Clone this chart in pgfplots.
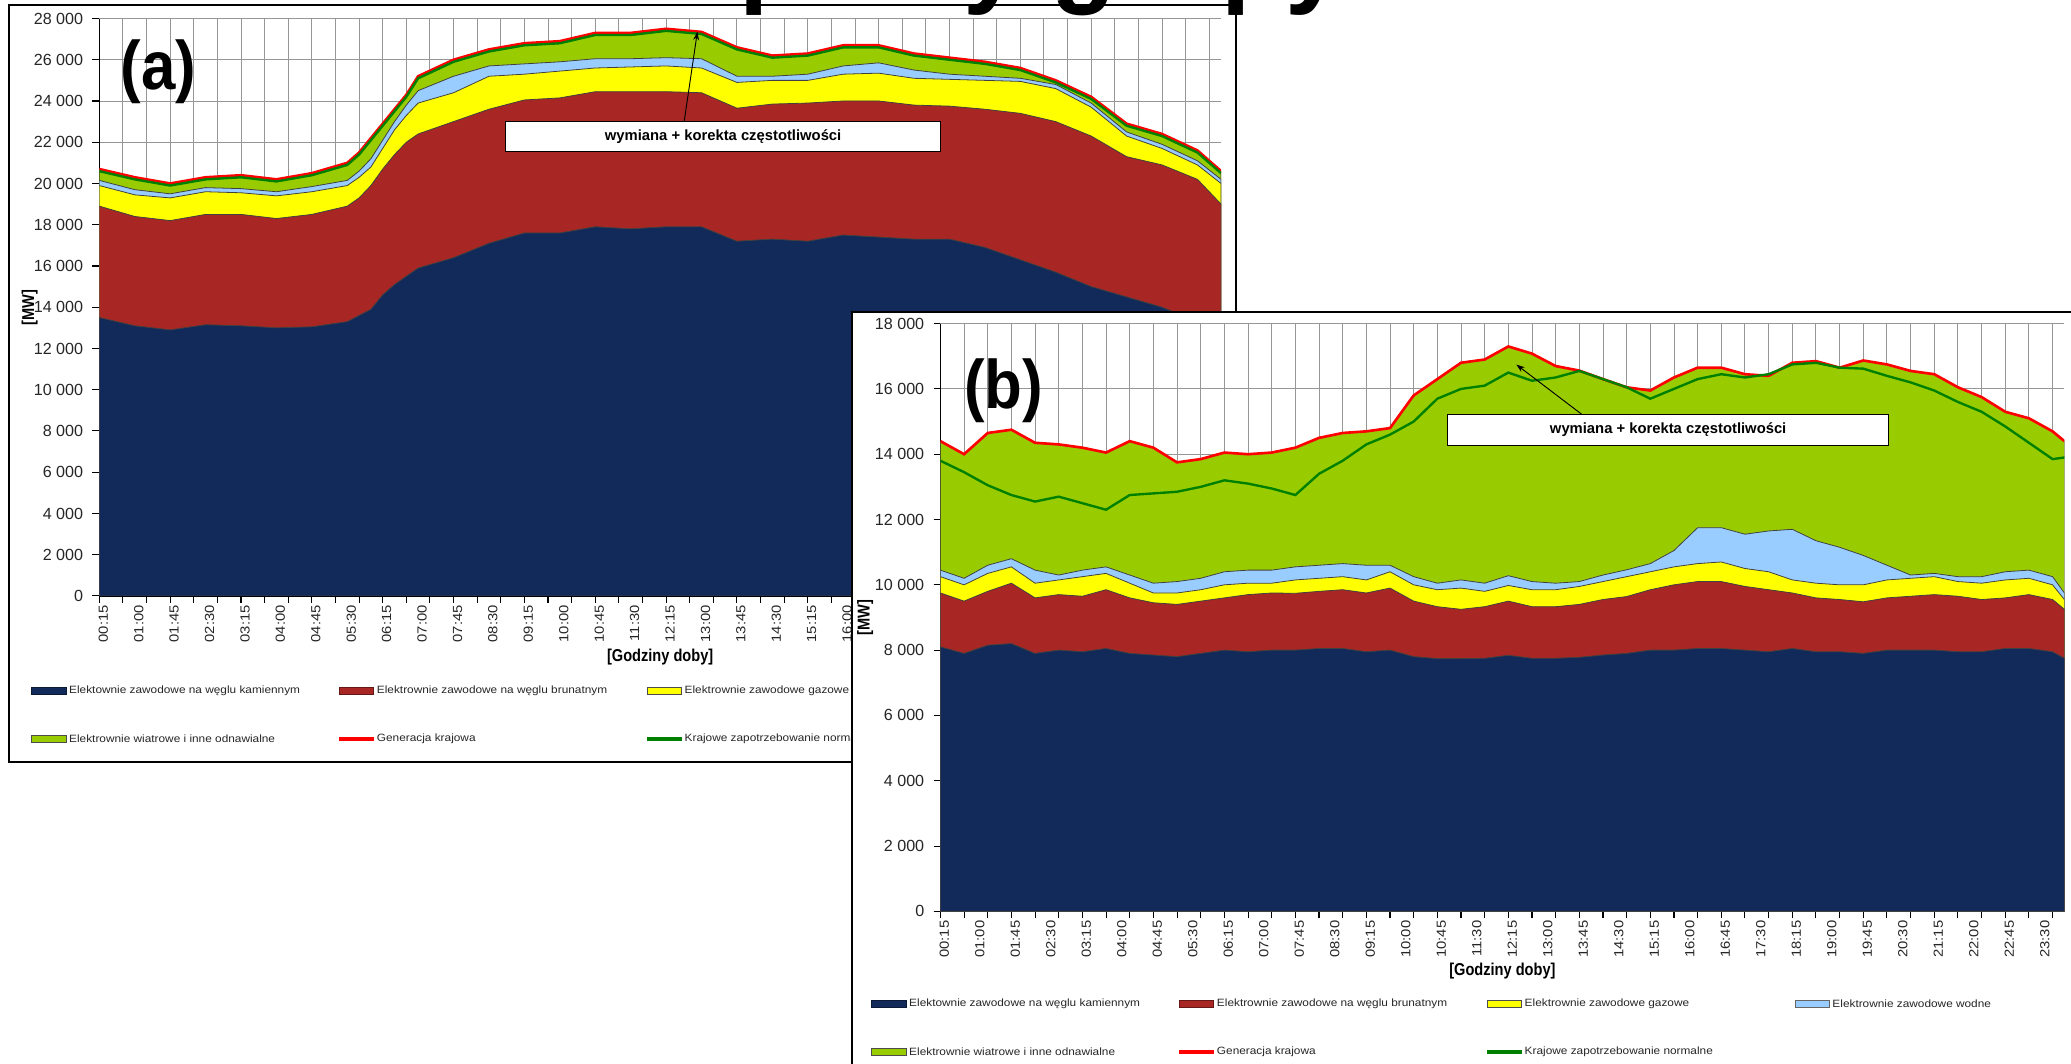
\documentclass[border=0pt]{standalone}
\usepackage{pgfplots}
\pgfplotsset{compat=1.18}
\usepackage{pgfplotstable}
\usepackage{fontspec}
\usetikzlibrary{arrows.meta}
\setmainfont{Liberation Sans}
\newfontfamily\chartfont{Liberation Sans}[FakeStretch=1.12]
\newfontfamily\condfont{Liberation Sans}[FakeStretch=0.85]
\newfontfamily\panelfont{Liberation Sans}[FakeStretch=0.9]

\definecolor{kamien}{RGB}{17,42,90}
\definecolor{brunat}{RGB}{168,38,36}
\definecolor{gaz}{RGB}{255,255,0}
\definecolor{woda}{RGB}{153,204,255}
\definecolor{wiatr}{RGB}{153,204,0}
\definecolor{gen}{RGB}{255,0,0}
\definecolor{zapotrz}{RGB}{0,128,0}
\definecolor{gridgray}{RGB}{150,150,150}

% cumulative tops of the generation layers [MW], quarter-hour index i (0 = 00:15)
\pgfplotstableread{
i  nav   bru   gaz   wod   tot   dem
0  13500 18900 19900 20150 20700 20600
3  13100 18400 19450 19700 20300 20200
6  12900 18200 19300 19500 20000 19900
9  13150 18500 19600 19800 20300 20200
12 13100 18500 19550 19750 20400 20300
15 13000 18300 19400 19600 20200 20100
18 13050 18500 19600 19850 20500 20400
21 13300 18900 19900 20150 21000 20900
22 13600 19300 20300 20600 21500 21400
23 13900 19900 20800 21200 22200 22100
24 14600 20700 21700 22100 22900 22800
25 15100 21400 22600 23000 23600 23500
26 15500 22000 23300 23800 24300 24200
27 15900 22400 23900 24500 25200 25100
30 16400 23000 24400 25200 26000 25900
33 17100 23600 25200 25700 26500 26400
36 17600 24050 25300 25800 26800 26700
39 17600 24150 25450 25900 26900 26800
42 17900 24450 25600 26050 27300 27200
45 17800 24450 25650 26050 27300 27200
48 17900 24450 25700 26100 27500 27400
51 17900 24400 25600 26050 27350 27250
54 17200 23650 24900 25200 26600 26500
57 17300 23850 25000 25200 26200 26100
60 17200 23900 25000 25300 26300 26200
63 17500 24000 25300 25700 26700 26600
66 17400 24000 25350 25850 26700 26600
69 17300 23800 25100 25500 26300 26200
72 17300 23750 25050 25300 26100 26000
75 16900 23600 25000 25200 25900 25800
78 16300 23400 24950 25100 25600 25500
81 15700 23000 24600 24800 25000 24900
84 15000 22300 23700 23900 24200 24100
87 14500 21300 22300 22500 22900 22800
90 14000 20900 21700 21900 22400 22300
93 13300 20200 20900 21100 21600 21500
95 12800 19000 20000 20200 20600 20500
}\dataA

\pgfplotstableread{
i  nav  bru   gaz   wod   tot   dem
0  8100 9750  10250 10450 14400 13800
2  7900 9500  10000 10200 14000 13450
4  8150 9800  10350 10600 14650 13050
6  8200 10050 10550 10800 14750 12750
8  7900 9600  10050 10450 14350 12550
10 8000 9700  10150 10300 14300 12700
12 7950 9650  10250 10450 14200 12500
14 8050 9850  10350 10550 14050 12300
16 7900 9600  10050 10300 14400 12750
18 7850 9450  9750  10050 14200 12800
20 7800 9400  9750  10100 13750 12850
22 7900 9500  9850  10200 13850 13000
24 8000 9600  10000 10400 14050 13200
26 7950 9700  10050 10450 14000 13100
28 8000 9750  10050 10450 14050 12950
30 8000 9740  10150 10550 14200 12750
32 8050 9800  10200 10600 14500 13400
34 8050 9850  10250 10650 14650 13800
36 7950 9750  10150 10600 14700 14300
38 8000 9900  10400 10600 14800 14600
40 7800 9500  10000 10250 15800 15000
42 7740 9330  9850  10050 16300 15700
44 7740 9250  9900  10150 16800 16000
46 7750 9330  9800  10050 16900 16100
48 7840 9500  9980  10280 17300 16500
50 7750 9330  9850  10100 17080 16250
52 7750 9330  9850  10050 16700 16350
54 7780 9400  9950  10100 16560 16550
56 7850 9550  10100 10300 16300 16300
58 7900 9640  10250 10460 16050 16050
60 8000 9850  10400 10650 15950 15700
62 8000 10000 10550 11050 16350 16000
64 8050 10100 10650 11750 16650 16300
66 8050 10100 10700 11750 16650 16450
68 8000 9950  10500 11550 16450 16350
70 7950 9850  10400 11650 16400 16450
72 8050 9750  10150 11700 16800 16750
74 7950 9600  10050 11350 16850 16800
76 7950 9550  10000 11150 16650 16650
78 7900 9480  10000 10900 16870 16620
80 8000 9600  10150 10600 16750 16400
82 8000 9650  10200 10300 16550 16200
84 8000 9700  10250 10350 16450 15950
86 7950 9650  10100 10250 16050 15600
88 7950 9550  10050 10250 15750 15300
90 8050 9600  10150 10400 15300 14850
92 8050 9700  10200 10450 15100 14350
94 7950 9550  10000 10250 14700 13850
95 7750 9250  9550  9750  14400 13900
}\dataB

\pgfplotsset{
  panel/.style={
    scale only axis,
    xmin=0, xmax=95, ymin=0,
    axis x line*=bottom, axis y line*=left,
    axis line style={black, line width=0.5pt},
    tick align=outside,
    major tick length=2.6pt,
    every tick/.style={black, line width=0.4pt},
    xtick={0,2,...,94},
    xticklabels={},
    extra x ticks={0,3,...,93},
    extra x tick labels={00:15,01:00,01:45,02:30,03:15,04:00,04:45,05:30,06:15,07:00,07:45,08:30,09:15,10:00,10:45,11:30,12:15,13:00,13:45,14:30,15:15,16:00,16:45,17:30,18:15,19:00,19:45,20:30,21:15,22:00,22:45,23:30},
    extra x tick style={grid=none, major tick length=0pt,
      tick label style={rotate=90, anchor=east, yshift=-1.5pt}},
    xticklabel style={font=\chartfont\fontsize{5}{5}\selectfont, text=black!85},
    xmajorgrids, ymajorgrids,
    grid style={gridgray, line width=0.35pt},
    ytick distance=2000,
    scaled y ticks=false,
    yticklabel style={font=\fontsize{6.1}{6.1}\selectfont, text=black!85,
      /pgf/number format/assume math mode=true,
      /pgf/number format/fixed,
      /pgf/number format/1000 sep={\ }},
    xlabel={[Godziny doby]},
    ylabel={[MW]},
    label style={font=\condfont\bfseries\fontsize{6.5}{6.5}\selectfont},
    layer/.style={draw=black!75, line width=0.3pt},
  }
}

\tikzset{legtext/.style={anchor=west, inner sep=0pt, text=black!85,
  font=\chartfont\fontsize{4}{4}\selectfont}}
\newcommand{\legswatch}[5]{\begin{scope}[shift={(#1,#2)}]
  \filldraw[fill=#3, draw=#4, line width=0.35pt] (0,-1.3pt) rectangle (13pt,1.3pt);
  \node[legtext] at (14pt,0) {#5};\end{scope}}
\newcommand{\legline}[4]{\begin{scope}[shift={(#1,#2)}]
  \draw[#3, line width=1.3pt] (0,0) -- (13pt,0);
  \node[legtext] at (14pt,0) {#4};\end{scope}}
\newcommand{\chartlegend}[2]{\begin{scope}[shift={(#1,#2)}]
  \legswatch{0pt}{0pt}{kamien}{kamien!60!black}{Elektownie zawodowe na węglu kamiennym}
  \legswatch{116.5pt}{0pt}{brunat}{brunat!60!black}{Elektrownie zawodowe na węglu brunatnym}
  \legswatch{233pt}{0pt}{gaz}{black!70}{Elektrownie zawodowe gazowe}
  \legswatch{349.5pt}{0pt}{woda}{black!60}{Elektrownie zawodowe wodne}
  \legswatch{0pt}{-18.25pt}{wiatr}{black!70}{Elektrownie wiatrowe i inne odnawialne}
  \legline{116.5pt}{-18.25pt}{gen}{Generacja krajowa}
  \legline{233pt}{-18.25pt}{zapotrz}{Krajowe zapotrzebowanie normalne}
\end{scope}}

% one panel: stacked layers drawn as cumulative tops, largest first
\newcommand{\panelplots}[1]{%
  \addplot[fill=wiatr, layer] table[x=i, y=tot] {#1} \closedcycle;
  \addplot[fill=woda, layer] table[x=i, y=wod] {#1} \closedcycle;
  \addplot[fill=gaz, layer] table[x=i, y=gaz] {#1} \closedcycle;
  \addplot[fill=brunat, layer] table[x=i, y=bru] {#1} \closedcycle;
  \addplot[fill=kamien, layer] table[x=i, y=nav] {#1} \closedcycle;
  \addplot[gen, line width=1pt] table[x=i, y=tot] {#1};
  \addplot[zapotrz, line width=0.9pt] table[x=i, y=dem] {#1};
}

\tikzset{note/.style={draw=black, line width=0.4pt, fill=white, inner sep=0pt,
  minimum height=11.5pt, font=\bfseries\fontsize{5.6}{6}\selectfont}}

\begin{document}
\begin{tikzpicture}
\useasboundingbox (0,0) rectangle (784pt,402.5pt);
\clip (0,0) rectangle (784pt,402.5pt);

% ---- panel (a)
\draw[black, line width=0.75pt, fill=white] (3.25pt,114pt) rectangle (468pt,400.6pt);
\begin{axis}[panel, at={(37.6pt,176.9pt)}, anchor=south west,
    width=424.65pt, height=218.6pt, ymax=28000,
    xlabel style={at={(axis description cs:0.5,-0.105)}, anchor=center},
    ylabel style={at={(axis description cs:-0.062,0.5)}, anchor=center}]
  \panelplots{\dataA}
\end{axis}
\node[font=\panelfont\bfseries\fontsize{26}{26}\selectfont] at (60pt,375.5pt) {(a)};
\draw[-{Stealth[length=3.2pt,width=2.2pt]}, line width=0.35pt] (259pt,356.5pt) -- (264pt,390.5pt);
\node[note, minimum width=164.5pt] at (273.75pt,350.75pt) {wymiana + korekta częstotliwości};
\chartlegend{12pt}{141pt}

% ---- panel (b)
\draw[black, line width=0.75pt, fill=white] (322.5pt,284.25pt) rectangle (800pt,-10pt);
\begin{axis}[panel, at={(356pt,57.5pt)}, anchor=south west,
    width=425.5pt, height=222.5pt, ymax=18000,
    xlabel style={at={(axis description cs:0.5,-0.101)}, anchor=center},
    ylabel style={at={(axis description cs:-0.067,0.5)}, anchor=center}]
  \panelplots{\dataB}
\end{axis}
\node[font=\panelfont\bfseries\fontsize{26}{26}\selectfont] at (380pt,254.5pt) {(b)};
\draw[-{Stealth[length=3.2pt,width=2.2pt]}, line width=0.35pt] (599pt,245.5pt) -- (574pt,264.5pt);
\node[note, minimum width=167pt] at (631.5pt,239.75pt) {wymiana + korekta częstotliwości};
\chartlegend{330pt}{22.5pt}

% page heading, running off the top edge
\node[anchor=base west, inner sep=0pt, font=\bfseries\fontsize{40}{40}\selectfont]
  at (91pt,405pt) {Struktura pracy grupy};
\end{tikzpicture}
\end{document}
